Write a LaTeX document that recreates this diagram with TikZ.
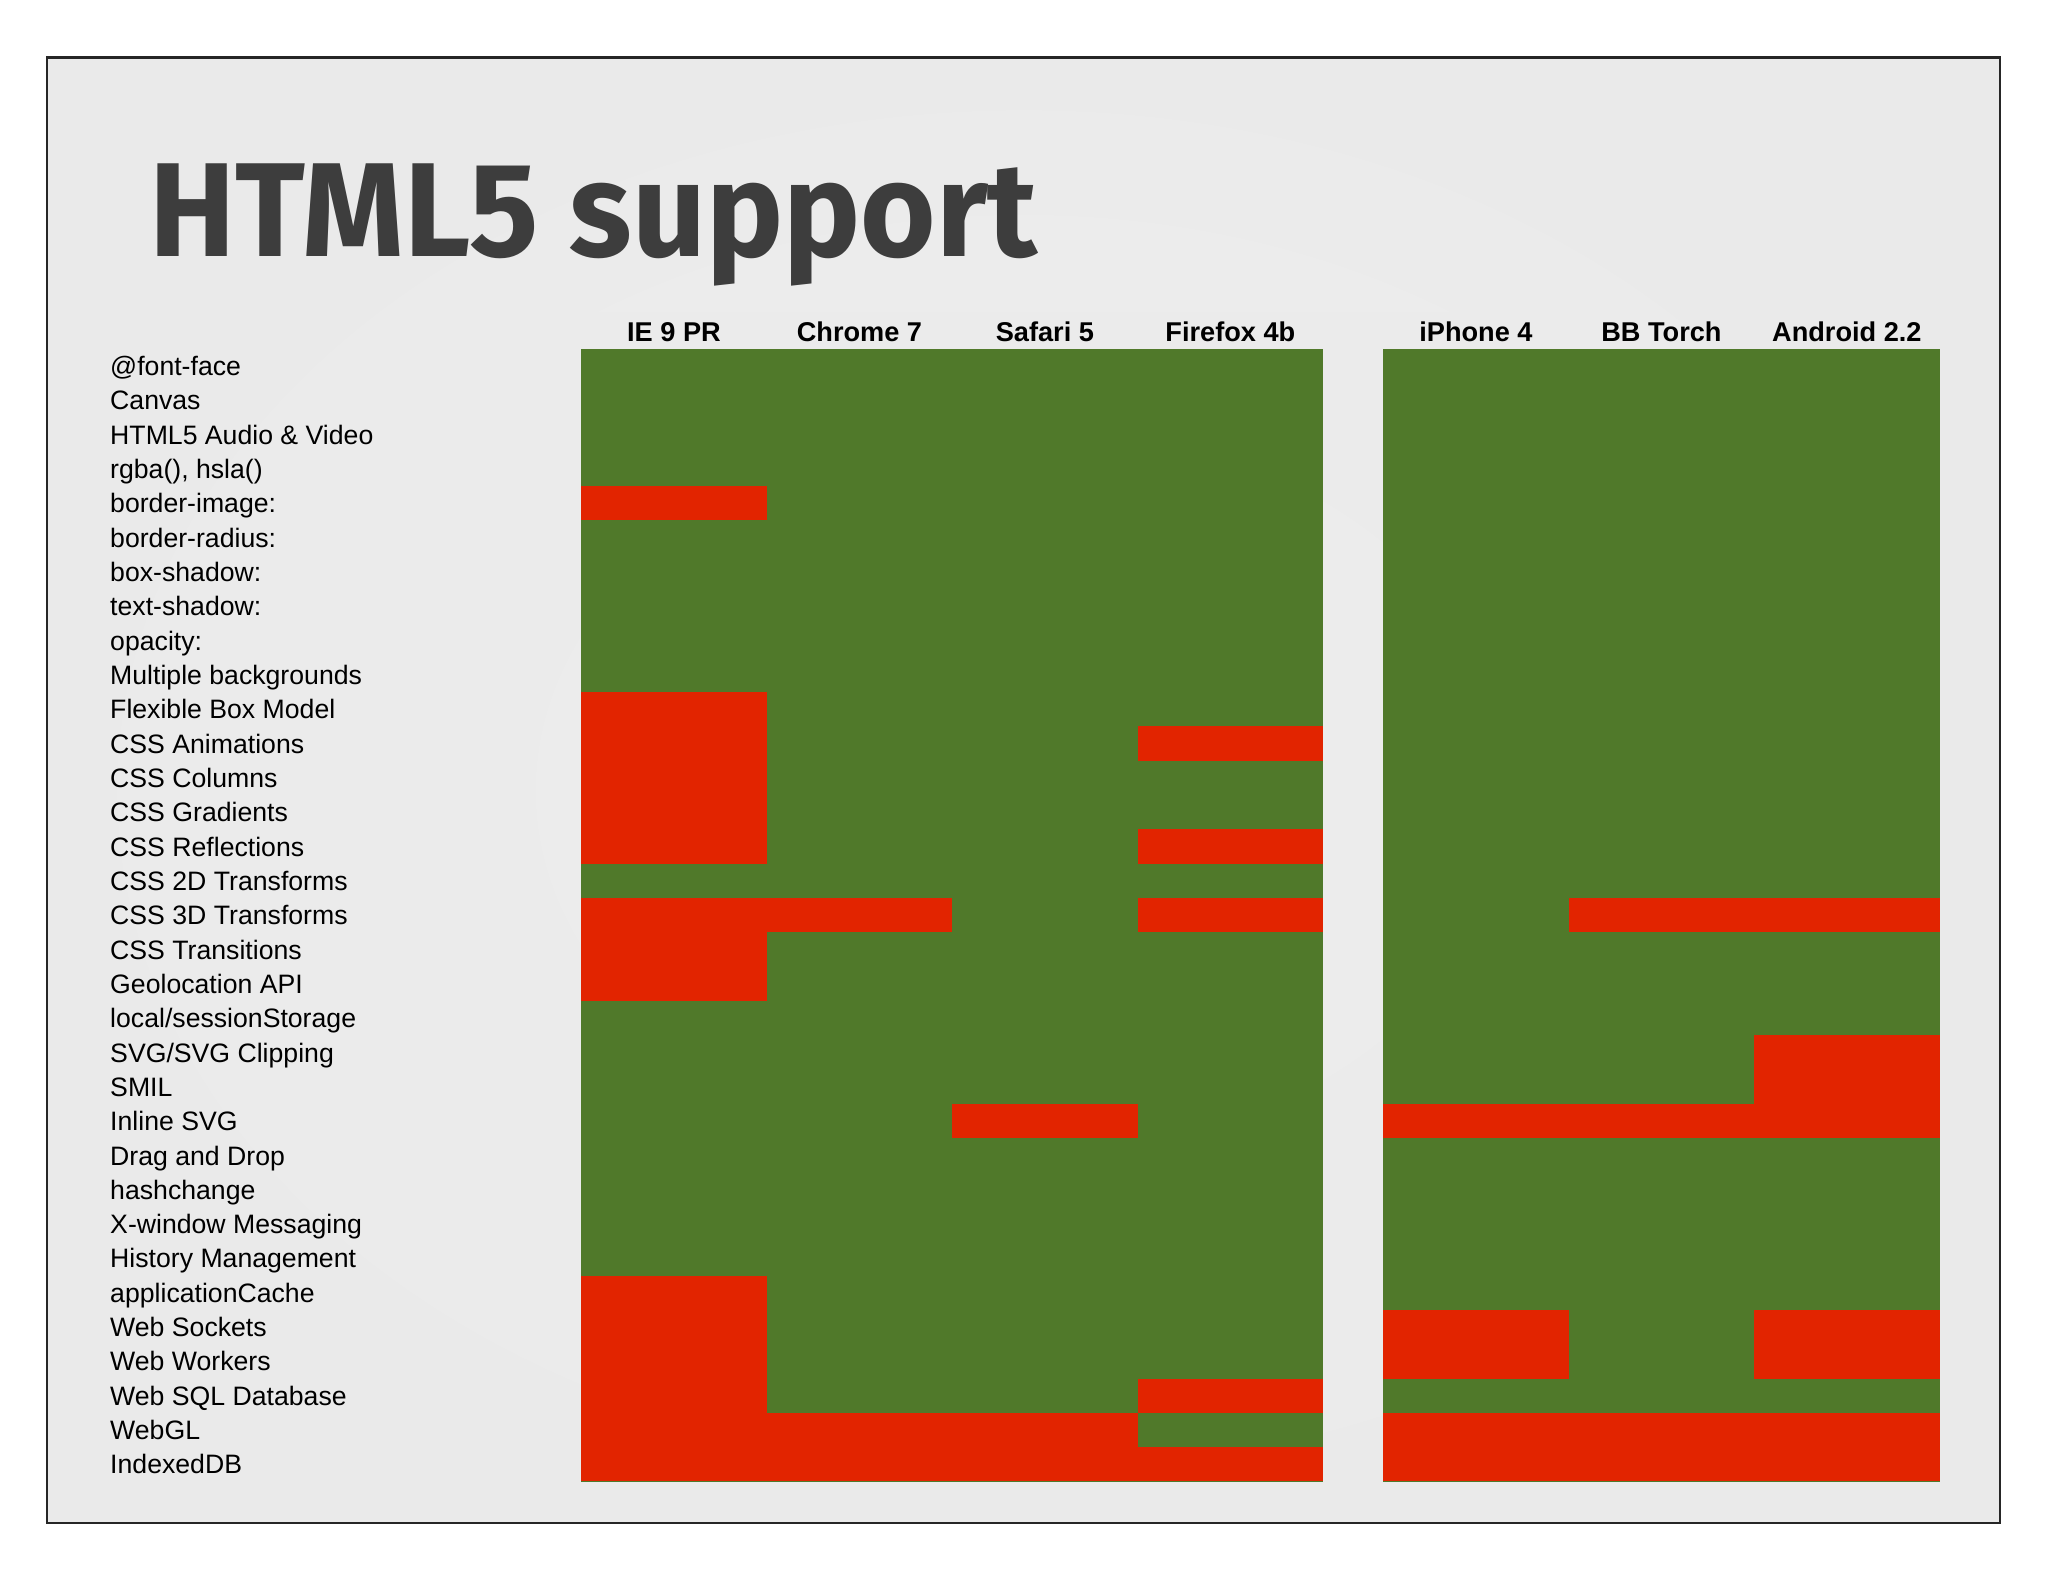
\documentclass[tikz,border=0pt]{standalone}
\usepackage{fontspec}
\setmainfont{Liberation Sans}
\newfontfamily\titlefont{Fira Sans}
\usepackage{graphicx}
\definecolor{cgreen}{HTML}{50792A}
\definecolor{cred}{HTML}{E22400}
\definecolor{cbg}{HTML}{EAEAEA}
\definecolor{cbglight}{HTML}{F1F1F1}
\definecolor{ctable}{HTML}{EBEBEB}
\definecolor{ctitle}{HTML}{3D3D3D}
\definecolor{cframe}{HTML}{262626}
\begin{document}
\begin{tikzpicture}[x=0.5pt,y=-0.5pt,
  rowlabel/.style={anchor=base west,inner sep=0pt,font=\fontsize{10.2}{12}\selectfont,text=black},
  colhead/.style={anchor=base,inner sep=0pt,font=\fontsize{10.4}{12}\selectfont\bfseries,text=black},
  yes/.style={fill=cgreen},
  no/.style={fill=cred}]
\useasboundingbox (0,0) rectangle (1568,1211.2);
\fill[white] (0,0) rectangle (1568,1211.2);
% slide
\shade[inner color=cbglight, outer color=cbg] (36,44) rectangle (1531,1166);
\fill[ctable, opacity=0.6] (78,239) rectangle (1505,1141);
\draw[cframe, line width=0.8pt] (36,44) rectangle (1531,1166);
% title
\node[anchor=base west, inner sep=0pt, text=ctitle] (title) at (114,196)
  {\resizebox{340pt}{35.5pt}{\titlefont\bfseries HTML5 support}};
% column headers
\foreach \t [count=\i from 0] in {IE 9 PR, Chrome 7, Safari 5, Firefox 4b, iPhone 4, BB Torch, Android 2.2} {
  \pgfmathsetmacro\xc{\i<4 ? 516+142*\i : 1130+142*(\i-4)}
  \node[colhead] (head\i) at (\xc,261.5) {\t};
}
% row labels
\foreach \t [count=\i from 0] in {@font-face, Canvas, HTML5 Audio \& Video, {rgba(), hsla()}, border-image:, border-radius:, box-shadow:, text-shadow:, opacity:, Multiple backgrounds, Flexible Box Model, CSS Animations, CSS Columns, CSS Gradients, CSS Reflections, CSS 2D Transforms, CSS 3D Transforms, CSS Transitions, Geolocation API, local/sessionStorage, SVG/SVG Clipping, SMIL, Inline SVG, Drag and Drop, hashchange, X-window Messaging, History Management, applicationCache, Web Sockets, Web Workers, Web SQL Database, WebGL, IndexedDB} {
  \node[rowlabel] (lab\i) at (84,{267+26.28*\i+20.5}) {\t};
}
% grid: supported
\fill[yes] (445,267) rectangle (1013,1134.3);
\fill[yes] (1059,267) rectangle (1485,1134.3);
% grid: not supported
\foreach \c/\a/\b in {0/4/4, 0/10/14, 0/16/18, 0/27/32,
                      1/16/16, 1/31/32,
                      2/22/22, 2/31/32,
                      3/11/11, 3/14/14, 3/16/16, 3/30/30, 3/32/32,
                      4/22/22, 4/28/29, 4/31/32,
                      5/16/16, 5/22/22, 5/31/32,
                      6/16/16, 6/20/22, 6/28/29, 6/31/32} {
  \pgfmathsetmacro\xl{\c<4 ? 445+142*\c : 1059+142*(\c-4)}
  \fill[no] (\xl,{267+26.28*\a}) rectangle ++(142,{26.28*(\b-\a+1)});
}
\end{tikzpicture}
\end{document}
